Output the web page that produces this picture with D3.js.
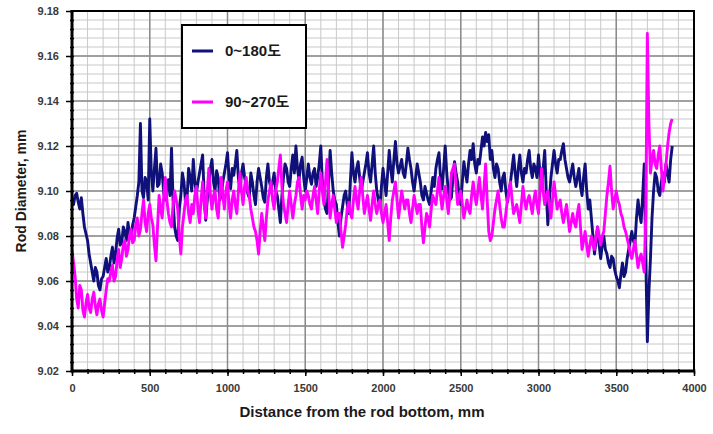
<!DOCTYPE html>
<html><head><meta charset="utf-8">
<script src="https://cdn.jsdelivr.net/npm/d3@7"></script>
<style>body{margin:0;background:#fff;} svg{display:block}</style>
</head><body>
<svg id="chart" width="713" height="434"></svg>
<script>
// ---- data ----
const sampleStep = 10; // mm between readings
const series1Name = "0~180도";
const series2Name = "90~270도";
const series1 = [
 9.097,9.094,9.098,9.099,9.095,9.092,9.097,9.090,9.084,9.081,9.078,9.072,9.068,9.064,9.060,9.066,9.064,9.058,9.056,9.061,
 9.062,9.066,9.070,9.064,9.066,9.071,9.075,9.068,9.072,9.079,9.083,9.076,9.077,9.084,9.082,9.078,9.086,9.081,9.079,9.085,
 9.088,9.093,9.098,9.104,9.130,9.100,9.097,9.106,9.104,9.096,9.132,9.108,9.100,9.110,9.119,9.102,9.103,9.112,9.108,9.099,
 9.096,9.102,9.105,9.098,9.119,9.096,9.084,9.080,9.078,9.092,9.098,9.108,9.104,9.095,9.097,9.110,9.106,9.100,9.114,9.104,
 9.099,9.104,9.108,9.112,9.116,9.098,9.087,9.096,9.104,9.110,9.114,9.104,9.100,9.109,9.106,9.096,9.098,9.104,9.108,9.112,
 9.117,9.106,9.101,9.110,9.107,9.112,9.118,9.106,9.100,9.108,9.112,9.106,9.103,9.099,9.097,9.108,9.104,9.098,9.094,9.104,
 9.110,9.106,9.102,9.097,9.095,9.106,9.112,9.104,9.101,9.104,9.108,9.100,9.098,9.092,9.086,9.098,9.106,9.112,9.110,9.104,
 9.102,9.110,9.116,9.108,9.120,9.110,9.105,9.112,9.115,9.106,9.100,9.106,9.112,9.106,9.103,9.108,9.110,9.102,9.106,9.112,
 9.120,9.104,9.096,9.092,9.090,9.104,9.118,9.108,9.100,9.096,9.094,9.086,9.080,9.088,9.093,9.098,9.100,9.094,9.090,9.104,
 9.117,9.108,9.104,9.110,9.113,9.106,9.100,9.104,9.108,9.112,9.117,9.108,9.104,9.112,9.120,9.108,9.100,9.096,9.093,9.102,
 9.110,9.104,9.098,9.108,9.118,9.110,9.104,9.114,9.122,9.112,9.108,9.111,9.114,9.108,9.106,9.112,9.119,9.114,9.110,9.104,
 9.100,9.106,9.112,9.108,9.104,9.098,9.096,9.102,9.099,9.096,9.094,9.100,9.106,9.102,9.110,9.114,9.117,9.106,9.101,9.110,
 9.120,9.108,9.100,9.096,9.097,9.106,9.113,9.108,9.104,9.098,9.094,9.104,9.113,9.108,9.104,9.112,9.118,9.114,9.121,9.112,
 9.108,9.114,9.112,9.118,9.124,9.120,9.126,9.122,9.125,9.114,9.118,9.110,9.106,9.112,9.110,9.104,9.100,9.106,9.108,9.100,
 9.095,9.100,9.104,9.110,9.116,9.108,9.102,9.110,9.116,9.108,9.104,9.110,9.108,9.114,9.118,9.110,9.106,9.112,9.110,9.106,
 9.116,9.108,9.102,9.110,9.118,9.100,9.085,9.096,9.106,9.112,9.118,9.112,9.108,9.114,9.114,9.118,9.121,9.114,9.110,9.106,
 9.104,9.108,9.112,9.106,9.102,9.106,9.110,9.102,9.098,9.106,9.112,9.100,9.092,9.096,9.088,9.080,9.072,9.078,9.084,9.076,
 9.070,9.076,9.080,9.074,9.072,9.068,9.066,9.071,9.070,9.065,9.062,9.060,9.057,9.063,9.068,9.062,9.064,9.070,9.074,9.078,
 9.082,9.078,9.076,9.088,9.096,9.090,9.086,9.098,9.112,9.070,9.033,9.055,9.070,9.088,9.100,9.108,9.106,9.100,9.098,9.104,
 9.108,9.104,9.112,9.108,9.104,9.114,9.120
];
const series2 = [
 9.074,9.068,9.062,9.052,9.048,9.058,9.056,9.047,9.044,9.050,9.054,9.048,9.046,9.052,9.055,9.049,9.045,9.050,9.052,9.047,
 9.044,9.050,9.056,9.061,9.060,9.064,9.067,9.060,9.062,9.069,9.074,9.066,9.070,9.076,9.078,9.071,9.074,9.080,9.083,9.077,
 9.078,9.085,9.088,9.080,9.083,9.090,9.096,9.086,9.082,9.090,9.094,9.088,9.085,9.076,9.069,9.084,9.098,9.092,9.088,9.098,
 9.106,9.096,9.090,9.086,9.084,9.094,9.100,9.096,9.092,9.080,9.072,9.084,9.090,9.096,9.098,9.090,9.086,9.094,9.090,9.098,
 9.102,9.092,9.086,9.096,9.104,9.094,9.088,9.100,9.110,9.098,9.092,9.098,9.100,9.092,9.088,9.098,9.106,9.098,9.092,9.100,
 9.104,9.094,9.088,9.096,9.100,9.094,9.090,9.100,9.108,9.100,9.094,9.102,9.106,9.100,9.098,9.092,9.088,9.084,9.082,9.078,
 9.072,9.082,9.090,9.084,9.078,9.088,9.096,9.100,9.104,9.096,9.092,9.100,9.104,9.110,9.116,9.102,9.094,9.090,9.086,9.094,
 9.100,9.094,9.088,9.094,9.098,9.104,9.106,9.098,9.092,9.098,9.096,9.100,9.098,9.094,9.092,9.098,9.102,9.096,9.090,9.100,
 9.108,9.100,9.094,9.104,9.114,9.100,9.088,9.094,9.098,9.092,9.086,9.090,9.090,9.082,9.075,9.080,9.085,9.092,9.095,9.090,
 9.088,9.096,9.102,9.096,9.092,9.100,9.106,9.098,9.090,9.094,9.098,9.092,9.087,9.094,9.100,9.094,9.090,9.094,9.096,9.090,
 9.086,9.090,9.094,9.086,9.078,9.088,9.096,9.100,9.104,9.096,9.088,9.094,9.100,9.096,9.092,9.096,9.096,9.090,9.086,9.092,
 9.098,9.094,9.090,9.094,9.094,9.084,9.077,9.084,9.090,9.088,9.084,9.092,9.098,9.096,9.094,9.100,9.106,9.098,9.092,9.098,
 9.102,9.096,9.090,9.098,9.108,9.110,9.112,9.102,9.094,9.098,9.100,9.094,9.088,9.092,9.096,9.092,9.090,9.098,9.104,9.098,
 9.094,9.100,9.106,9.098,9.092,9.102,9.112,9.096,9.082,9.078,9.080,9.086,9.092,9.096,9.100,9.094,9.088,9.084,9.084,9.090,
 9.096,9.100,9.104,9.096,9.090,9.092,9.094,9.090,9.086,9.094,9.102,9.096,9.092,9.096,9.098,9.094,9.090,9.096,9.100,9.094,
 9.090,9.100,9.110,9.100,9.094,9.098,9.100,9.094,9.088,9.096,9.104,9.098,9.092,9.094,9.096,9.090,9.086,9.090,9.094,9.088,
 9.082,9.086,9.090,9.086,9.084,9.090,9.094,9.084,9.074,9.078,9.082,9.076,9.071,9.076,9.080,9.076,9.074,9.080,9.084,9.080,
 9.076,9.080,9.082,9.090,9.098,9.104,9.111,9.100,9.092,9.096,9.100,9.096,9.094,9.090,9.088,9.084,9.082,9.079,9.076,9.072,
 9.070,9.074,9.078,9.072,9.066,9.070,9.072,9.068,9.064,9.090,9.170,9.130,9.108,9.114,9.118,9.112,9.110,9.116,9.120,9.110,
 9.100,9.106,9.112,9.120,9.126,9.130,9.132
];
const xTicks = [0,500,1000,1500,2000,2500,3000,3500,4000];
const yTicks = [9.02,9.04,9.06,9.08,9.10,9.12,9.14,9.16,9.18];
const xMinorStep = 100;
const yMinorStep = 0.004;
const xTitle = "Distance from the rod bottom, mm";
const yTitle = "Rod Diameter, mm";
const colors = ["#10107a", "#ff00ff"];

// ---- chart ----
const svg = d3.select("#chart");
const L = 72, R = 694, T = 11, B = 371;
const x = d3.scaleLinear().domain([0, 4000]).range([L, R]);
const y = d3.scaleLinear().domain([9.02, 9.18]).range([B, T]);

const xMinor = d3.range(0, 4000 + 1e-6, xMinorStep);
const yMinor = d3.range(0, 41).map(i => +(9.02 + i * yMinorStep).toFixed(3));

const grid = svg.append("g");
grid.selectAll("line.vm").data(xMinor).join("line")
  .attr("x1", d => x(d)).attr("x2", d => x(d)).attr("y1", T).attr("y2", B)
  .attr("stroke", "#c8c8c8").attr("stroke-width", 1);
grid.selectAll("line.hm").data(yMinor).join("line")
  .attr("x1", L).attr("x2", R).attr("y1", d => y(d)).attr("y2", d => y(d))
  .attr("stroke", "#c8c8c8").attr("stroke-width", 1);
grid.selectAll("line.vM").data(xTicks).join("line")
  .attr("x1", d => x(d)).attr("x2", d => x(d)).attr("y1", T).attr("y2", B)
  .attr("stroke", "#8a8a8a").attr("stroke-width", 1.5);
grid.selectAll("line.hM").data(yTicks).join("line")
  .attr("x1", L).attr("x2", R).attr("y1", d => y(d)).attr("y2", d => y(d))
  .attr("stroke", "#8a8a8a").attr("stroke-width", 1.5);

// data lines
svg.append("clipPath").attr("id", "clip").append("rect")
  .attr("x", L).attr("y", T).attr("width", R - L).attr("height", B - T);
const line = d3.line().x((d, i) => x(i * sampleStep)).y(d => y(d));
const gl = svg.append("g").attr("clip-path", "url(#clip)");
[series1, series2].forEach((s, k) => {
  gl.append("path").datum(s).attr("d", line)
    .attr("fill", "none").attr("stroke", colors[k])
    .attr("stroke-width", 2.9).attr("stroke-linejoin", "round");
});

// frame
svg.append("rect").attr("x", L).attr("y", T).attr("width", R - L).attr("height", B - T)
  .attr("fill", "none").attr("stroke", "#000").attr("stroke-width", 2);

// axes
const fontFam = "'Liberation Sans', Arial, 'Noto Sans CJK KR', sans-serif";
const ax = svg.append("g").attr("transform", `translate(0,${B})`)
  .call(d3.axisBottom(x).tickValues(xTicks).tickSize(5).tickPadding(8).tickFormat(d3.format("d")));
const axm = svg.append("g").attr("transform", `translate(0,${B-2})`)
  .call(d3.axisBottom(x).tickValues(xMinor).tickSize(5).tickFormat(""));
const ay = svg.append("g").attr("transform", `translate(${L},0)`)
  .call(d3.axisLeft(y).tickValues(yTicks).tickSize(6).tickPadding(7).tickFormat(d3.format(".2f")));
const aym = svg.append("g").attr("transform", `translate(${L+2},0)`)
  .call(d3.axisLeft(y).tickValues(yMinor).tickSize(4).tickFormat(""));
[ax, axm, ay, aym].forEach(g => {
  g.select(".domain").remove();
  g.selectAll(".tick line").attr("stroke", "#000").attr("stroke-width", 1.5);
  g.selectAll("text").attr("font-family", fontFam).attr("font-weight", "bold")
    .attr("font-size", 11).attr("fill", "#3a3a3a");
});
// thick left & bottom axis lines
svg.append("line").attr("x1", L).attr("x2", L).attr("y1", T - 1).attr("y2", B + 1)
  .attr("stroke", "#000").attr("stroke-width", 3);
svg.append("line").attr("x1", L - 1).attr("x2", R + 1).attr("y1", B).attr("y2", B)
  .attr("stroke", "#000").attr("stroke-width", 3);

// titles
svg.append("text").attr("x", 362).attr("y", 417).attr("text-anchor", "middle")
  .attr("font-family", fontFam).attr("font-weight", "bold").attr("font-size", 15)
  .attr("fill", "#1a1a1a").text(xTitle);
svg.append("text").attr("transform", "translate(26,191) rotate(-90)").attr("text-anchor", "middle")
  .attr("font-family", fontFam).attr("font-weight", "bold").attr("font-size", 14)
  .attr("fill", "#1a1a1a").text(yTitle);

// legend
const lg = svg.append("g");
lg.append("rect").attr("x", 182).attr("y", 25).attr("width", 124).attr("height", 103)
  .attr("fill", "#fff").attr("stroke", "#000").attr("stroke-width", 2);
[series1Name, series2Name].forEach((name, k) => {
  const yy = 51 + k * 51;
  lg.append("line").attr("x1", 192).attr("x2", 213).attr("y1", yy).attr("y2", yy)
    .attr("stroke", colors[k]).attr("stroke-width", 3);
  lg.append("text").attr("x", 225).attr("y", yy + 5)
    .attr("font-family", fontFam).attr("font-weight", "bold").attr("font-size", 15)
    .attr("fill", "#1a1a1a").text(name);
});
</script>
</body></html>
